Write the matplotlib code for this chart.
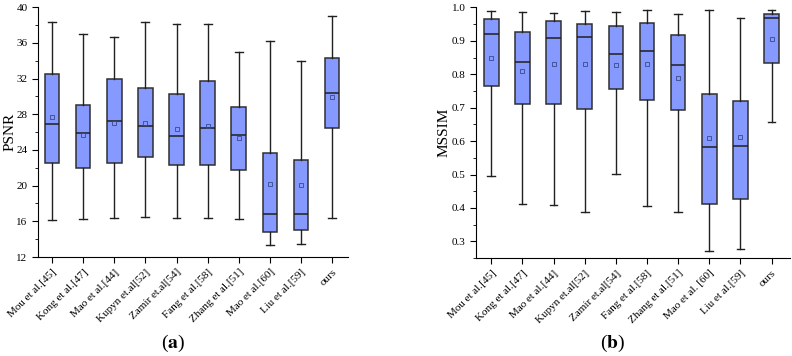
import numpy as np
import matplotlib
matplotlib.use("Agg")
import matplotlib.pyplot as plt
from matplotlib.ticker import MultipleLocator

plt.rcParams['font.family'] = ['Liberation Serif', 'DejaVu Serif']
plt.rcParams['mathtext.fontset'] = 'stix'

methods_a = ["Mou et al.[45]", "Kong et al.[47]", "Mao et al.[44]", "Kupyn et.al[52]",
             "Zamir et.al[54]", "Fang et al.[58]", "Zhang et al.[51]", "Mao et al.[60]",
             "Liu et al.[59]", "ours"]
methods_b = ["Mou et al.[45]", "Kong et al.[47]", "Mao et al.[44]", "Kupyn et.al[52]",
             "Zamir et.al[54]", "Fang et al.[58]", "Zhang et al.[51]", "Mao et al. [60]",
             "Liu et al.[59]", "ours"]

# PSNR box stats
psnr_low = [16.15, 16.22, 16.33, 16.48, 16.37, 16.37, 16.29, 13.39, 13.46, 16.37]
psnr_q1 = [22.49, 21.97, 22.53, 23.20, 22.27, 22.34, 21.75, 14.80, 15.06, 26.49]
psnr_med = [26.90, 25.93, 27.20, 26.67, 25.59, 26.45, 25.70, 16.82, 16.82, 30.37]
psnr_mean = [27.64, 25.70, 27.05, 26.97, 26.30, 26.64, 25.37, 20.14, 20.03, 29.88]
psnr_q3 = [32.50, 29.06, 31.97, 30.89, 30.29, 31.75, 28.76, 23.65, 22.87, 34.29]
psnr_high = [38.32, 36.98, 36.60, 38.32, 38.06, 38.06, 34.92, 36.19, 33.99, 39.03]

# MSSIM box stats
ssim_low = [0.495, 0.413, 0.409, 0.388, 0.501, 0.407, 0.387, 0.272, 0.278, 0.656]
ssim_q1 = [0.766, 0.710, 0.710, 0.695, 0.757, 0.724, 0.692, 0.413, 0.426, 0.835]
ssim_med = [0.921, 0.837, 0.908, 0.913, 0.862, 0.871, 0.829, 0.583, 0.586, 0.968]
ssim_mean = [0.848, 0.811, 0.832, 0.830, 0.827, 0.830, 0.790, 0.610, 0.613, 0.906]
ssim_q3 = [0.966, 0.927, 0.959, 0.950, 0.946, 0.954, 0.919, 0.742, 0.719, 0.979]
ssim_high = [0.990, 0.987, 0.984, 0.990, 0.987, 0.991, 0.979, 0.991, 0.970, 0.992]

box_color = '#8599FF'


def make_stats(low, q1, med, mean, q3, high):
    return [dict(whislo=a, q1=b, med=c, mean=d, q3=e, whishi=f, fliers=[])
            for a, b, c, d, e, f in zip(low, q1, med, mean, q3, high)]


def draw_box(ax, stats, labels):
    pos = np.arange(1, len(stats) + 1)
    ax.bxp(stats, positions=pos, widths=0.47, patch_artist=True, showmeans=True,
           boxprops=dict(facecolor=box_color, edgecolor='#303030', linewidth=1.1),
           medianprops=dict(color='#202020', linewidth=1.1),
           whiskerprops=dict(color='#202020', linewidth=1.0),
           capprops=dict(color='#202020', linewidth=1.0),
           capwidths=0.25,
           meanprops=dict(marker='s', markersize=3.2, markerfacecolor='none',
                          markeredgecolor='#3a4a8a', markeredgewidth=0.6))
    ax.set_xticks(pos)
    ax.set_xticklabels(labels, rotation=45, ha='right', rotation_mode='anchor', fontsize=8)
    ax.spines['top'].set_visible(False)
    ax.spines['right'].set_visible(False)
    ax.tick_params(axis='y', labelsize=8)
    ax.tick_params(direction='out', length=4, width=0.8)
    ax.tick_params(which='minor', length=2, width=0.6)


fig = plt.figure(figsize=(7.92, 3.56), dpi=100)
ax1 = fig.add_axes([0.048, 0.278, 0.391, 0.702])
ax2 = fig.add_axes([0.601, 0.275, 0.396, 0.704])

draw_box(ax1, make_stats(psnr_low, psnr_q1, psnr_med, psnr_mean, psnr_q3, psnr_high), methods_a)
ax1.set_xlim(0.55, 10.5)
ax1.set_ylim(12, 40)
ax1.yaxis.set_major_locator(MultipleLocator(4))
ax1.yaxis.set_minor_locator(MultipleLocator(2))
ax1.set_ylabel('PSNR', fontsize=11, labelpad=0)

draw_box(ax2, make_stats(ssim_low, ssim_q1, ssim_med, ssim_mean, ssim_q3, ssim_high), methods_b)
ax2.set_xlim(0.51, 10.58)
ax2.set_ylim(0.25, 1.0)
ax2.yaxis.set_major_locator(MultipleLocator(0.1))
ax2.yaxis.set_minor_locator(MultipleLocator(0.05))
ax2.set_ylabel('MSSIM', fontsize=11, labelpad=1)

fig.text(0.218, 0.035, r'($\mathbf{a}$)', ha='center', va='center', fontsize=14)
fig.text(0.773, 0.035, r'($\mathbf{b}$)', ha='center', va='center', fontsize=14)

fig.savefig('out.png', dpi=100)
